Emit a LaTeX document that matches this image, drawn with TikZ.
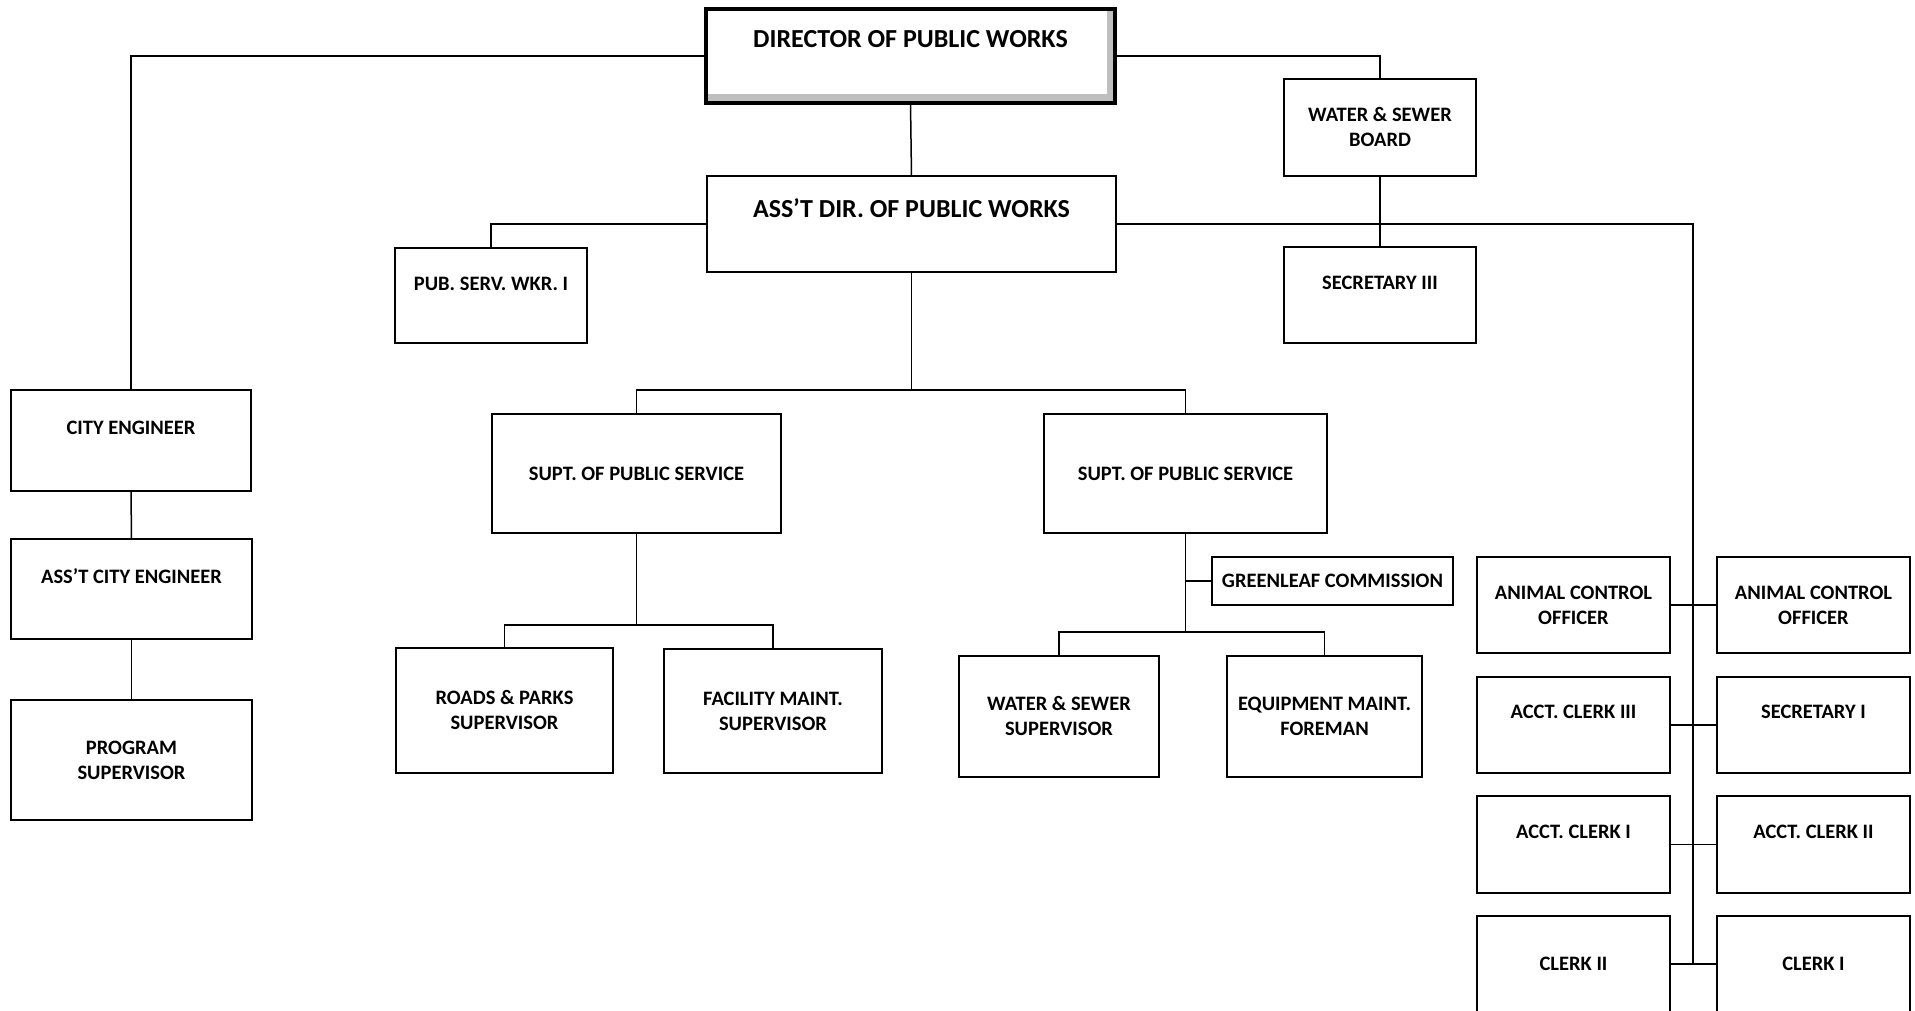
\documentclass[tikz,border=0pt]{standalone}
\usepackage{fontspec}
\setmainfont{Carlito}
\usetikzlibrary{calc}
\tikzset{
  x=1pt,y=-1pt,
  box/.style={draw=black,line width=1.7pt,fill=white,inner sep=0pt,outer sep=0pt},
  dirbox/.style={draw=black,line width=3.2pt,fill=white,inner sep=0pt,outer sep=0pt},
  txt/.style={anchor=base,inner sep=0pt,font=\bfseries\fontsize{20.5}{25}\selectfont},
  bigtxt/.style={anchor=base,inner sep=0pt,font=\bfseries\fontsize{26}{30}\selectfont},
  conn/.style={draw=black,line width=1.5pt},
}
\newcommand\mkbox[6][box]{\node[#1,minimum width={(#5-#3)},minimum height={(#6-#4)}] (#2) at ({(#3+#5)/2},{(#4+#6)/2}) {};}
\begin{document}
\begin{tikzpicture}
\path[use as bounding box] (0,0) rectangle (1915,1010);
\clip (0,0) rectangle (1915,1010);
% boxes
\mkbox[dirbox]{dir}{706}{9}{1115}{103}
\fill[gray!50] ($(dir.south west)+(2,-2)$) rectangle ($(dir.south east)+(-2,-9)$);
\fill[gray!50] ($(dir.north east)+(-2,2)$) rectangle ($(dir.south east)+(-8,-2)$);
\mkbox{ad}{707}{176}{1116}{272}
\mkbox{wsb}{1284}{79}{1476}{176}
\mkbox{psw}{395}{248}{587}{343}
\mkbox{sec3}{1284}{247}{1476}{343}
\mkbox{ce}{11}{390}{251}{491}
\mkbox{s1}{492}{414}{781}{533}
\mkbox{s2}{1044}{414}{1327}{533}
\mkbox{ace}{11}{539}{252}{639}
\mkbox{ps}{11}{700}{252}{820}
\mkbox{rp}{396}{648}{613}{773}
\mkbox{fm}{664}{649}{882}{773}
\mkbox{wss}{959}{656}{1159}{777}
\mkbox{eq}{1227}{656}{1422}{777}
\mkbox{gl}{1212}{557}{1453}{605}
\mkbox{ac1}{1477}{557}{1670}{653}
\mkbox{ac2}{1717}{557}{1910}{653}
\mkbox{acc3}{1477}{677}{1670}{773}
\mkbox{sec1}{1717}{677}{1910}{773}
\mkbox{acc1}{1477}{796}{1670}{893}
\mkbox{acc2}{1717}{796}{1910}{893}
\mkbox{cl2}{1477}{916}{1670}{1012}
\mkbox{cl1}{1717}{916}{1910}{1012}
% texts
\node[bigtxt] (dir-t) at (dir.center |- 0,47) {DIRECTOR OF PUBLIC WORKS};
\node[bigtxt] (ad-t) at (ad.center |- 0,217) {ASS’T DIR. OF PUBLIC WORKS};
\node[txt] (wsb-a) at (wsb.center |- 0,121.6) {WATER \& SEWER};
\node[txt] (wsb-b) at (wsb.center |- 0,146.6) {BOARD};
\node[txt] (psw-t) at (psw.center |- 0,290.6) {PUB. SERV. WKR. I};
\node[txt] (sec3-t) at (sec3.center |- 0,289.6) {SECRETARY III};
\node[txt] (ce-t) at (ce.center |- 0,434.6) {CITY ENGINEER};
\node[txt] (s1-t) at (s1.center |- 0,480.6) {SUPT. OF PUBLIC SERVICE};
\node[txt] (s2-t) at (s2.center |- 0,480.6) {SUPT. OF PUBLIC SERVICE};
\node[txt] (ace-t) at (ace.center |- 0,583.6) {ASS’T CITY ENGINEER};
\node[txt] (ps-a) at (ps.center |- 0,754.6) {PROGRAM};
\node[txt] (ps-b) at (ps.center |- 0,779.6) {SUPERVISOR};
\node[txt] (rp-a) at (rp.center |- 0,704.6) {ROADS \& PARKS};
\node[txt] (rp-b) at (rp.center |- 0,729.6) {SUPERVISOR};
\node[txt] (fm-a) at (fm.center |- 0,705.6) {FACILITY MAINT.};
\node[txt] (fm-b) at (fm.center |- 0,730.6) {SUPERVISOR};
\node[txt] (wss-a) at (wss.center |- 0,710.6) {WATER \& SEWER};
\node[txt] (wss-b) at (wss.center |- 0,735.6) {SUPERVISOR};
\node[txt] (eq-a) at (eq.center |- 0,710.6) {EQUIPMENT MAINT.};
\node[txt] (eq-b) at (eq.center |- 0,735.6) {FOREMAN};
\node[txt] (gl-t) at (gl.center |- 0,587.6) {GREENLEAF COMMISSION};
\node[txt] (ac1-a) at (ac1.center |- 0,599.6) {ANIMAL CONTROL};
\node[txt] (ac1-b) at (ac1.center |- 0,624.6) {OFFICER};
\node[txt] (ac2-a) at (ac2.center |- 0,599.6) {ANIMAL CONTROL};
\node[txt] (ac2-b) at (ac2.center |- 0,624.6) {OFFICER};
\node[txt] (acc3-t) at (acc3.center |- 0,718.6) {ACCT. CLERK III};
\node[txt] (sec1-t) at (sec1.center |- 0,718.6) {SECRETARY I};
\node[txt] (acc1-t) at (acc1.center |- 0,838.6) {ACCT. CLERK I};
\node[txt] (acc2-t) at (acc2.center |- 0,838.6) {ACCT. CLERK II};
\node[txt] (cl2-t) at (cl2.center |- 0,970.6) {CLERK II};
\node[txt] (cl1-t) at (cl1.center |- 0,970.6) {CLERK I};
% connectors
\coordinate (colbot) at (1693,964);
\coordinate (bar1) at (ad.south |- 0,390);
\coordinate (bar2) at (s1.south |- 0,625);
\coordinate (bar3) at (s2.south |- 0,632);
\draw[conn] (dir.west) -| (ce.north);
\draw[conn] (dir.east) -| (wsb.north);
\draw[conn] (dir.south) -- (ad.north);
\draw[conn] (wsb.south) -- (sec3.north);
\draw[conn] (ad.west) -| (psw.north);
\draw[conn] (ad.east) -| (colbot);
\draw[conn] (ad.south) -- (bar1);
\draw[conn] (s1.north) |- (bar1) -| (s2.north);
\draw[conn] (ce.south) -- (ace.north);
\draw[conn] (ace.south) -- (ps.north);
\draw[conn] (s1.south) -- (bar2);
\draw[conn] (rp.north) |- (bar2) -| (fm.north);
\draw[conn] (s2.south) -- (bar3);
\draw[conn] (wss.north) |- (bar3) -| (eq.north);
\draw[conn] (s2.south |- gl.west) -- (gl.west);
\draw[conn] (ac1.east) -- (ac2.west);
\draw[conn] (acc3.east) -- (sec1.west);
\draw[conn] (acc1.east) -- (acc2.west);
\draw[conn] (cl2.east) -- (cl1.west);
\end{tikzpicture}
\end{document}
